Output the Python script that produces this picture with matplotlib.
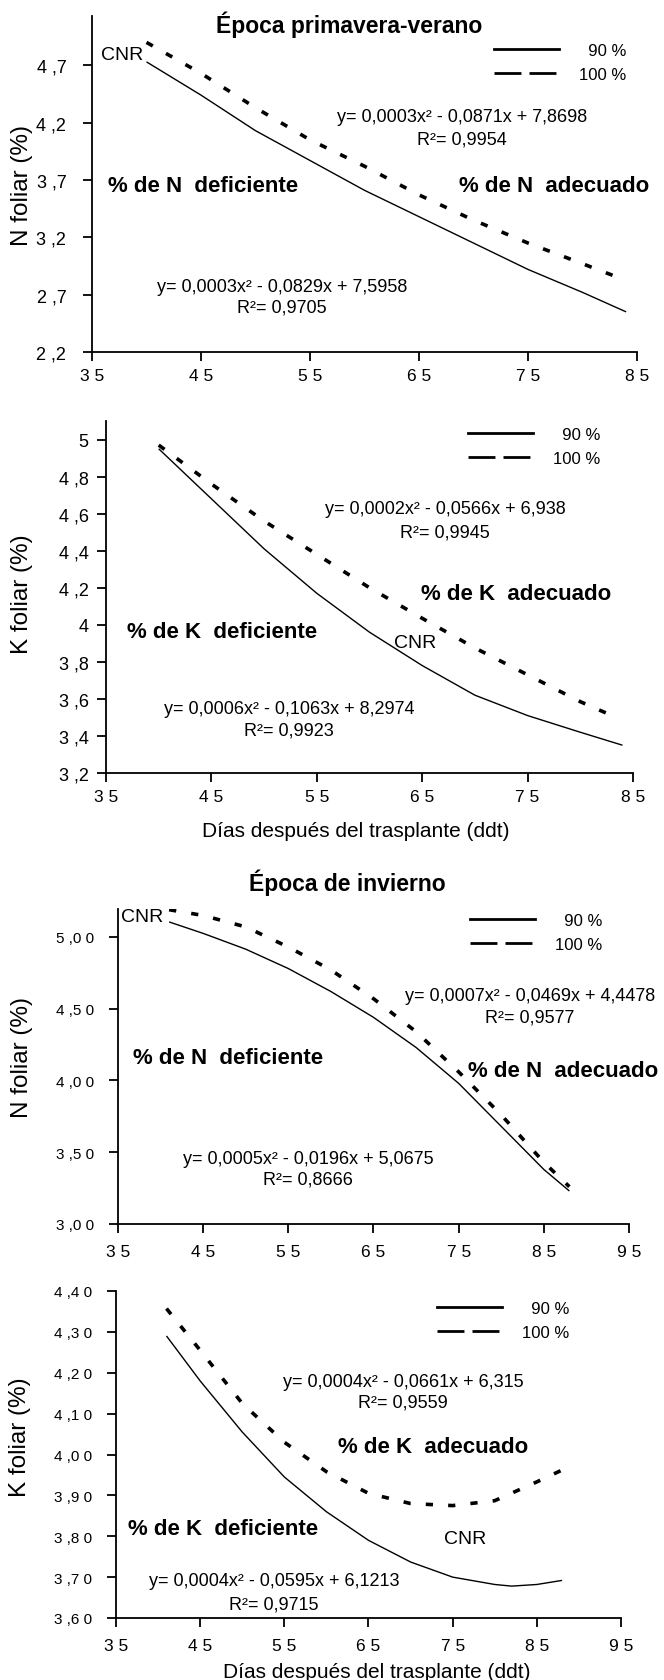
import matplotlib
matplotlib.use("Agg")
import matplotlib.pyplot as plt
from matplotlib.lines import Line2D

plt.rcParams['font.family'] = ['Liberation Sans', 'DejaVu Sans']
NARROW = ['Liberation Sans Narrow', 'Liberation Sans', 'DejaVu Sans']

# ---------------- data ----------------
# Panel 1: Época primavera-verano, N foliar
pv_n_x90 = [40, 45, 50, 55, 60, 65, 70, 75, 80, 84]
pv_n_y90 = [4.73, 4.44, 4.13, 3.87, 3.61, 3.38, 3.15, 2.92, 2.72, 2.55]
pv_n_x100 = [40, 45, 50, 55, 60, 65, 70, 75, 80, 83]
pv_n_y100 = [4.90, 4.63, 4.33, 4.05, 3.82, 3.57, 3.35, 3.15, 2.97, 2.86]

# Panel 2: Época primavera-verano, K foliar
pv_k_x90 = [40, 45, 50, 55, 60, 65, 70, 75, 80, 84]
pv_k_y90 = [4.95, 4.68, 4.41, 4.17, 3.96, 3.78, 3.62, 3.51, 3.42, 3.35]
pv_k_x100 = [40, 45, 50, 55, 60, 65, 70, 75, 80, 83]
pv_k_y100 = [4.97, 4.76, 4.56, 4.38, 4.20, 4.035, 3.875, 3.73, 3.585, 3.51]

# Panel 3: Época de invierno, N foliar
in_n_x90 = [41, 45, 50, 55, 60, 65, 70, 75, 80, 85, 88]
in_n_y90 = [5.105, 5.025, 4.915, 4.78, 4.62, 4.44, 4.23, 3.98, 3.68, 3.38, 3.23]
in_n_x100 = [41, 45, 50, 55, 60, 65, 70, 75, 80, 85, 88]
in_n_y100 = [5.19, 5.15, 5.07, 4.93, 4.77, 4.57, 4.34, 4.06, 3.76, 3.43, 3.26]

# Panel 4: Época de invierno, K foliar
in_k_x90 = [41, 45, 50, 55, 60, 65, 70, 75, 80, 82, 85, 88]
in_k_y90 = [4.29, 4.18, 4.055, 3.945, 3.86, 3.79, 3.737, 3.70, 3.682, 3.678, 3.682, 3.692]
in_k_x100 = [41, 45, 50, 55, 60, 65, 70, 75, 80, 85, 88]
in_k_y100 = [4.357, 4.255, 4.125, 4.03, 3.958, 3.905, 3.88, 3.875, 3.887, 3.933, 3.962]

# tick labels
pv_xticks = [35, 45, 55, 65, 75, 85]
pv_xlabels = ["3 5", "4 5", "5 5", "6 5", "7 5", "8 5"]
in_xticks = [35, 45, 55, 65, 75, 85, 95]
in_xlabels = ["3 5", "4 5", "5 5", "6 5", "7 5", "8 5", "9 5"]
pv_n_yticks = [2.2, 2.7, 3.2, 3.7, 4.2, 4.7]
pv_n_ylabels = ["2 ,2", "2 ,7", "3 ,2", "3 ,7", "4 ,2", "4 ,7"]
pv_k_yticks = [3.2, 3.4, 3.6, 3.8, 4.0, 4.2, 4.4, 4.6, 4.8, 5.0]
pv_k_ylabels = ["3 ,2", "3 ,4", "3 ,6", "3 ,8", "4", "4 ,2", "4 ,4", "4 ,6", "4 ,8", "5"]
in_n_yticks = [3.0, 3.5, 4.0, 4.5, 5.0]
in_n_ylabels = ["3 ,0 0", "3 ,5 0", "4 ,0 0", "4 ,5 0", "5 ,0 0"]
in_k_yticks = [3.6, 3.7, 3.8, 3.9, 4.0, 4.1, 4.2, 4.3, 4.4]
in_k_ylabels = ["3 ,6 0", "3 ,7 0", "3 ,8 0", "3 ,9 0", "4 ,0 0", "4 ,1 0", "4 ,2 0", "4 ,3 0", "4 ,4 0"]

series_labels = ["  90 %", "100 %"]

# ---------------- layout ----------------
W, H = 664, 1681
fig = plt.figure(figsize=(W / 100, H / 100), dpi=100)


def fx(px):
    return px / W


def fy(py):
    return 1 - py / H


def make_ax(left, right, top, bottom):
    return fig.add_axes([fx(left), fy(bottom), (right - left) / W, (bottom - top) / H])


def ftext(x, y, s, size=13, family=None, weight='normal', ha='center', rot=0):
    fig.text(fx(x), fy(y), s, fontsize=size, family=family or ['Liberation Sans', 'DejaVu Sans'],
             weight=weight, ha=ha, va='center', rotation=rot)


def style_ax(ax, xlim, ylim, xt, xl, yt, yl, ysize, ypad, xpad):
    ax.set_xlim(*xlim)
    ax.set_ylim(*ylim)
    for s in ['top', 'right']:
        ax.spines[s].set_visible(False)
    for s in ['left', 'bottom']:
        ax.spines[s].set_linewidth(1.3)
    ax.set_xticks(xt)
    ax.set_xticklabels(xl)
    ax.set_yticks(yt)
    ax.set_yticklabels(yl)
    ax.tick_params(axis='both', direction='out', length=6.5, width=1.3)
    ax.tick_params(axis='x', pad=xpad, labelsize=12.5)
    ax.tick_params(axis='y', pad=ypad, labelsize=ysize)
    ax.patch.set_alpha(0)


def draw(ax, x90, y90, x100, y100):
    ax.plot(x90, y90, color='black', lw=1.0, solid_capstyle='butt')
    ax.plot(x100, y100, color='black', lw=2.6, dashes=(2.0, 4.2), dash_capstyle='butt')


def legend(ax, x_right, y_top):
    h = [Line2D([], [], color='black', lw=2.0),
         Line2D([], [], color='black', lw=2.0, dashes=(9.7, 2.9))]
    ax.legend(h, series_labels, loc='upper right', bbox_to_anchor=(fx(x_right), fy(y_top)),
              bbox_transform=fig.transFigure, frameon=False, handlelength=3.9,
              handletextpad=1.2, labelspacing=0.55, borderpad=0, borderaxespad=0,
              prop={'family': NARROW, 'size': 12})


# Panel 1
ax1 = make_ax(92, 637, 17, 353)
style_ax(ax1, (35, 85), (2.2, 5.13), pv_xticks, pv_xlabels, pv_n_yticks, pv_n_ylabels, 13, 12, 5)
draw(ax1, pv_n_x90, pv_n_y90, pv_n_x100, pv_n_y100)
legend(ax1, 626, 44)
ftext(349, 25, "Época primavera-verano", size=16.5, family=NARROW, weight='bold')
ftext(122, 55, "CNR", size=14, family=NARROW)
ftext(462, 118, "y= 0,0003x² - 0,0871x + 7,8698", family=NARROW)
ftext(462, 140, "R²= 0,9954", family=NARROW)
ftext(203, 187, "% de N  deficiente", size=16, weight='bold')
ftext(554, 187, "% de N  adecuado", size=16, weight='bold')
ftext(282, 287, "y= 0,0003x² - 0,0829x + 7,5958", family=NARROW)
ftext(282, 308, "R²= 0,9705", family=NARROW)
ftext(22, 185, "N foliar (%)", size=17.5, rot=90)

# Panel 2
ax2 = make_ax(106, 633, 422, 774)
style_ax(ax2, (35, 85), (3.2, 5.10), pv_xticks, pv_xlabels, pv_k_yticks, pv_k_ylabels, 13, 6, 5)
draw(ax2, pv_k_x90, pv_k_y90, pv_k_x100, pv_k_y100)
legend(ax2, 600, 428)
ftext(445, 510, "y= 0,0002x² - 0,0566x + 6,938", family=NARROW)
ftext(445, 533, "R²= 0,9945", family=NARROW)
ftext(516, 595, "% de K  adecuado", size=16, weight='bold')
ftext(222, 632, "% de K  deficiente", size=16, weight='bold')
ftext(415, 643, "CNR", size=14, family=NARROW)
ftext(289, 709, "y= 0,0006x² - 0,1063x + 8,2974", family=NARROW)
ftext(289, 731, "R²= 0,9923", family=NARROW)
ftext(356, 832, "Días después del trasplante (ddt)", size=15)
ftext(22, 594, "K foliar (%)", size=17.5, rot=90)

# Panel 3
ax3 = make_ax(118, 629, 910, 1225)
style_ax(ax3, (35, 95), (3.0, 5.195), in_xticks, in_xlabels, in_n_yticks, in_n_ylabels, 11, 11, 8)
draw(ax3, in_n_x90, in_n_y90, in_n_x100, in_n_y100)
legend(ax3, 602, 914)
ftext(347, 883, "Época de invierno", size=16.5, family=NARROW, weight='bold')
ftext(142, 918, "CNR", size=14, family=NARROW)
ftext(530, 997, "y= 0,0007x² - 0,0469x + 4,4478", family=NARROW)
ftext(530, 1018, "R²= 0,9577", family=NARROW)
ftext(228, 1058, "% de N  deficiente", size=16, weight='bold')
ftext(563, 1072, "% de N  adecuado", size=16, weight='bold')
ftext(308, 1160, "y= 0,0005x² - 0,0196x + 5,0675", family=NARROW)
ftext(308, 1180, "R²= 0,8666", family=NARROW)
ftext(22, 1058, "N foliar (%)", size=17.5, rot=90)

# Panel 4
ax4 = make_ax(116, 621, 1292, 1619)
style_ax(ax4, (35, 95), (3.6, 4.4), in_xticks, in_xlabels, in_k_yticks, in_k_ylabels, 11, 11, 8)
draw(ax4, in_k_x90, in_k_y90, in_k_x100, in_k_y100)
legend(ax4, 569, 1302)
ftext(403, 1383, "y= 0,0004x² - 0,0661x + 6,315", family=NARROW)
ftext(403, 1403, "R²= 0,9559", family=NARROW)
ftext(433, 1448, "% de K  adecuado", size=16, weight='bold')
ftext(223, 1530, "% de K  deficiente", size=16, weight='bold')
ftext(465, 1540, "CNR", size=14, family=NARROW)
ftext(274, 1582, "y= 0,0004x² - 0,0595x + 6,1213", family=NARROW)
ftext(274, 1605, "R²= 0,9715", family=NARROW)
ftext(377, 1673, "Días después del trasplante (ddt)", size=15)
ftext(20, 1437, "K foliar (%)", size=17.5, rot=90)

fig.savefig("out.png", dpi=100)
